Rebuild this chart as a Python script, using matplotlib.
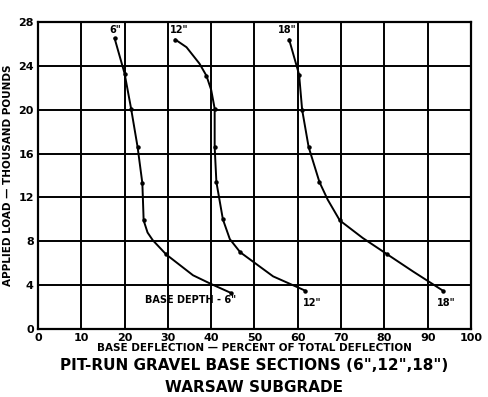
import matplotlib
matplotlib.use("Agg")
import matplotlib.pyplot as plt

x_6 = [17.7, 20.0, 21.5, 23.0, 24.1, 24.4, 29.6, 44.5]
y_6 = [26.5, 23.3, 20.1, 16.6, 13.3, 9.9, 6.8, 3.3]
x_12 = [31.7, 38.9, 40.8, 40.8, 41.2, 42.7, 46.7, 61.7]
y_12 = [26.4, 23.1, 20.1, 16.6, 13.4, 10.0, 7.0, 3.5]
x_18 = [58.0, 60.3, 61.0, 62.5, 65.0, 69.7, 80.7, 93.5]
y_18 = [26.4, 23.2, 20.0, 16.6, 13.4, 9.9, 6.8, 3.5]

# trazo de las curvas (incluye puntos intermedios)
tx_6 = [17.7, 20.0, 21.5, 23.0, 24.1, 24.4, 25.3, 26.5, 29.6, 35.8, 40.0, 44.5]
ty_6 = [26.5, 23.3, 20.1, 16.6, 13.3, 9.9, 8.8, 8.1, 6.8, 4.9, 4.1, 3.3]
tx_12 = [31.7, 34.3, 37.3, 38.9, 40.0, 40.8, 40.8, 41.2, 42.7, 44.3, 46.7, 54.3, 61.7]
ty_12 = [26.4, 25.7, 24.2, 23.1, 21.8, 20.1, 16.6, 13.4, 10.0, 8.2, 7.0, 4.8, 3.5]
tx_18 = [58.0, 60.3, 61.0, 62.5, 65.0, 66.9, 69.7, 75.0, 80.7, 86.6, 93.5]
ty_18 = [26.4, 23.2, 20.0, 16.6, 13.4, 11.8, 9.9, 8.3, 6.8, 5.25, 3.5]

x_ticks = [0, 10, 20, 30, 40, 50, 60, 70, 80, 90, 100]
y_ticks = [0, 4, 8, 12, 16, 20, 24, 28]

fig = plt.figure(figsize=(4.89, 3.97), dpi=100)
ax = fig.add_axes([38 / 489, 1 - 329 / 397, 433 / 489, 307 / 397])

for tx, ty in [(tx_6, ty_6), (tx_12, ty_12), (tx_18, ty_18)]:
    ax.plot(tx, ty, color='black', lw=1.4, zorder=3)
for xs, ys in [(x_6, y_6), (x_12, y_12), (x_18, y_18)]:
    ax.plot(xs, ys, 'o', color='black', ms=2.2, zorder=4)

ax.set_xlim(0, 100)
ax.set_ylim(0, 28)
ax.set_xticks(x_ticks)
ax.set_yticks(y_ticks)
ax.set_xticklabels([str(v) for v in x_ticks], fontweight='bold', fontsize=8)
ax.set_yticklabels([str(v) for v in y_ticks], fontweight='bold', fontsize=8)
ax.tick_params(length=0, pad=3)
ax.grid(True, color='black', lw=1.4)
for s in ax.spines.values():
    s.set_linewidth(1.6)

# etiquetas de las curvas
kw = dict(fontsize=7, fontweight='bold', ha='center', va='center')
ax.text(17.8, 27.3, '6"', **kw)
ax.text(32.5, 27.3, '12"', **kw)
ax.text(57.6, 27.3, '18"', **kw)
ax.text(35.3, 2.6, 'BASE DEPTH - 6"', **kw)
ax.text(63.3, 2.4, '12"', **kw)
ax.text(94.3, 2.4, '18"', **kw)

ax.set_xlabel('BASE DEFLECTION \u2014 PERCENT OF TOTAL DEFLECTION',
              fontsize=7.5, fontweight='bold', labelpad=0)
ax.set_ylabel('APPLIED LOAD \u2014 THOUSAND POUNDS', fontsize=7.5,
              fontweight='bold', labelpad=4)

fig.text(254 / 489, 1 - 366 / 397, 'PIT-RUN GRAVEL BASE SECTIONS (6",12",18")',
         ha='center', va='center', fontsize=11, fontweight='bold')
fig.text(254 / 489, 1 - 387 / 397, 'WARSAW SUBGRADE',
         ha='center', va='center', fontsize=11, fontweight='bold')

plt.savefig('out.png', dpi=100)
